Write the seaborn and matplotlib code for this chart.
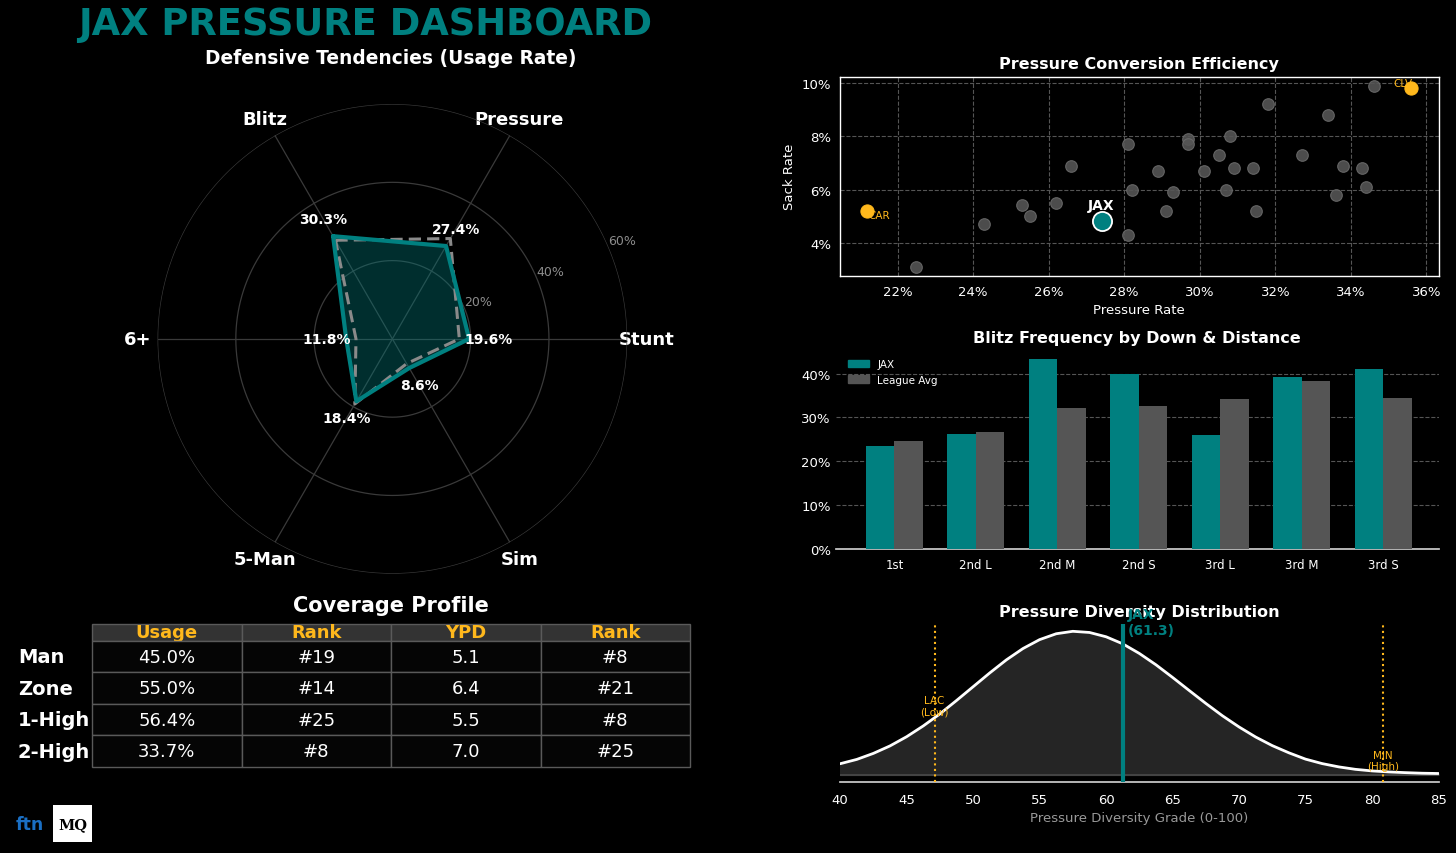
import numpy as np
import pandas as pd
import matplotlib
matplotlib.use("Agg")
import matplotlib.pyplot as plt
import seaborn as sns
from matplotlib.patches import Rectangle, Patch
from matplotlib.ticker import PercentFormatter

TEAL = "#008080"
GOLD = "#FFB81C"
GRAY = "#555555"

# ---- radar: usage rates ----
radar_cats = ["Blitz", "Pressure", "Stunt", "Sim", "5-Man", "6+"]
radar_jax = [30.3, 27.4, 19.6, 8.6, 18.4, 11.8]
radar_league = [29.1, 29.6, 17.1, 7.3, 19.2, 9.3]

# ---- scatter: pressure rate vs sack rate ----
other_press = [22.5, 24.3, 25.3, 25.5, 26.2, 26.6, 28.1, 28.2, 28.1, 28.9,
               29.1, 29.3, 29.7, 29.7, 30.1, 30.5, 30.7, 30.8, 30.9, 31.4,
               31.5, 31.8, 32.7, 33.4, 33.6, 33.8, 34.3, 34.4, 34.6]
other_sack = [3.1, 4.7, 5.4, 5.0, 5.5, 6.9, 7.7, 6.0, 4.3, 6.7,
              5.2, 5.9, 7.9, 7.7, 6.7, 7.3, 6.0, 8.0, 6.8, 6.8,
              5.2, 9.2, 7.3, 8.8, 5.8, 6.9, 6.8, 6.1, 9.9]
hl_teams = ["CAR", "CLV"]
hl_press = [21.2, 35.6]
hl_sack = [5.2, 9.8]
jax_press = 27.4
jax_sack = 4.8

# ---- bars: blitz rate by down & distance ----
situations = ["1st", "2nd L", "2nd M", "2nd S", "3rd L", "3rd M", "3rd S"]
blitz_jax = [23.4, 26.3, 43.2, 39.9, 25.9, 39.2, 41.0]
blitz_league = [24.6, 26.6, 32.1, 32.7, 34.3, 38.3, 34.5]

# ---- diversity distribution (curve, relative height) ----
grade_x = [40, 41.25, 42.5, 43.75, 45, 46.25, 47.5, 48.75, 50, 51.25, 52.5,
           53.75, 55, 56.25, 57.5, 58.75, 60, 61.25, 62.5, 63.75, 65, 66.25,
           67.5, 68.75, 70, 71.25, 72.5, 73.75, 75, 76.25, 77.5, 78.75, 80,
           81.25, 82.5, 83.75, 85]
grade_density = [0.078, 0.108, 0.150, 0.202, 0.266, 0.341, 0.425, 0.518,
                 0.614, 0.710, 0.801, 0.880, 0.942, 0.983, 1.000, 0.992,
                 0.962, 0.913, 0.846, 0.767, 0.679, 0.588, 0.498, 0.412,
                 0.334, 0.264, 0.204, 0.154, 0.110, 0.079, 0.056, 0.039,
                 0.028, 0.021, 0.016, 0.012, 0.010]
jax_grade = 61.3
low_team, low_grade = "LAC", 47.1
high_team, high_grade = "MIN", 80.8

# ---- coverage table ----
cov_rows = ["Man", "Zone", "1-High", "2-High"]
cov_headers = ["Usage", "Rank", "YPD", "Rank"]
cov_usage = [45.0, 55.0, 56.4, 33.7]
cov_usage_rank = [19, 14, 25, 8]
cov_ypd = [5.1, 6.4, 5.5, 7.0]
cov_ypd_rank = [8, 21, 8, 25]


sns.set_theme(style="dark", rc={
    "figure.facecolor": "black",
    "axes.facecolor": "black",
    "savefig.facecolor": "black",
    "text.color": "white",
    "axes.labelcolor": "white",
    "xtick.color": "white",
    "ytick.color": "white",
    "axes.edgecolor": "white",
})
plt.rcParams["font.family"] = ["DejaVu Sans"]

fig = plt.figure(figsize=(14.56, 8.54), dpi=100)

fig.text(0.2507, 0.971, "JAX PRESSURE DASHBOARD", color=TEAL, fontsize=26.6,
         fontweight="bold", ha="center", va="center")
fig.text(0.2685, 0.932, "Defensive Tendencies (Usage Rate)", color="white",
         fontsize=13.4, fontweight="bold", ha="center", va="center")

# ---------------- radar ----------------
ax_r = fig.add_axes([0.108, 0.327, 0.323, 0.550], projection="polar")
ax_r.set_facecolor("black")
ax_r.set_theta_offset(np.deg2rad(120))
ax_r.set_theta_direction(-1)
angles = np.linspace(0, 2 * np.pi, len(radar_cats), endpoint=False)
ang_c = np.append(angles, angles[0])
jax_c = np.append(radar_jax, radar_jax[0])
lg_c = np.append(radar_league, radar_league[0])

# ring gridlines
ring_theta = np.linspace(0, 2 * np.pi, 361)
for rr in [20, 40, 60]:
    ax_r.plot(ring_theta, np.full_like(ring_theta, rr), color="#3a3a3a",
              linewidth=0.9, zorder=1)

ax_r.fill(ang_c, jax_c, color=TEAL, alpha=0.36, zorder=2)
sns.lineplot(x=ang_c, y=lg_c, ax=ax_r, sort=False, estimator=None,
             color="#8a8a8a", linewidth=2.2, linestyle=(0, (4, 2)), zorder=3)
sns.lineplot(x=ang_c, y=jax_c, ax=ax_r, sort=False, estimator=None,
             color=TEAL, linewidth=3, zorder=4)
for a, v in zip(angles, radar_jax):
    ax_r.text(a, v + 5, f"{v:.1f}%", color="white", fontsize=10,
              fontweight="bold", ha="center", va="center", zorder=5)

ax_r.set_ylim(0, 60)
ax_r.set_yticks([20, 40, 60])
ax_r.set_yticklabels(["20%", "40%", "60%"], color="#8c8c8c", fontsize=9)
ax_r.set_rlabel_position(97)
ax_r.set_xticks(angles)
ax_r.set_xticklabels(radar_cats, color="white", fontsize=13, fontweight="bold")
ax_r.tick_params(axis="x", pad=1)
ax_r.xaxis.grid(True, color="#3a3a3a", linewidth=0.9)
ax_r.yaxis.grid(True, color="#3a3a3a", linewidth=0.9)
ax_r.spines["polar"].set_visible(False)
ax_r.set_xlabel("")
ax_r.set_ylabel("")

# ---------------- scatter ----------------
ax_s = fig.add_axes([0.577, 0.676, 0.411, 0.233])
sns.scatterplot(x=other_press, y=other_sack, ax=ax_s, color="#555555",
                edgecolor="#6a6a6a", linewidth=0.8, s=70, alpha=0.9, zorder=3)
sns.scatterplot(x=hl_press, y=hl_sack, ax=ax_s, color=GOLD, edgecolor=GOLD,
                s=90, zorder=4)
sns.scatterplot(x=[jax_press], y=[jax_sack], ax=ax_s, color=TEAL,
                edgecolor="white", linewidth=1.3, s=190, zorder=5)
ax_s.annotate(hl_teams[0], (hl_press[0], hl_sack[0]), xytext=(1, -3),
              textcoords="offset points", color=GOLD, fontsize=7.5,
              ha="left", va="center")
ax_s.annotate(hl_teams[1], (hl_press[1], hl_sack[1]), xytext=(1, 4),
              textcoords="offset points", color=GOLD, fontsize=7.5,
              ha="right", va="center")
ax_s.annotate("JAX", (jax_press, jax_sack), xytext=(0, 7),
              textcoords="offset points", color="white", fontsize=10,
              fontweight="bold", ha="center", va="bottom")
ax_s.set_xticks([22, 24, 26, 28, 30, 32, 34, 36])
ax_s.set_yticks([4, 6, 8, 10])
ax_s.xaxis.set_major_formatter(PercentFormatter(decimals=0))
ax_s.yaxis.set_major_formatter(PercentFormatter(decimals=0))
ax_s.grid(True, linestyle="--", color="#555555", linewidth=0.8)
ax_s.tick_params(labelsize=9.5, length=3, color="white")
for sp in ax_s.spines.values():
    sp.set_color("white")
    sp.set_linewidth(1)
ax_s.set_xlabel("Pressure Rate", fontsize=9.5)
ax_s.set_ylabel("Sack Rate", fontsize=9.5)
ax_s.set_title("Pressure Conversion Efficiency", color="white", fontsize=11.5,
               fontweight="bold", pad=6)

# ---------------- bars ----------------
ax_b = fig.add_axes([0.574, 0.356, 0.414, 0.233])
bars_df = pd.DataFrame({
    "situation": situations * 2,
    "rate": blitz_jax + blitz_league,
    "team": ["JAX"] * len(situations) + ["League Avg"] * len(situations),
})
sns.barplot(data=bars_df, x="situation", y="rate", hue="team", ax=ax_b,
            palette=[TEAL, GRAY], width=0.7, saturation=1, edgecolor="none",
            linewidth=0, zorder=3)
ax_b.set_xlim(-0.72, 6.68)
ax_b.set_yticks([0, 10, 20, 30, 40])
ax_b.yaxis.set_major_formatter(PercentFormatter(decimals=0))
ax_b.grid(True, axis="y", linestyle="--", color="#555555", linewidth=0.8)
ax_b.grid(False, axis="x")
for side in ["top", "right", "left"]:
    ax_b.spines[side].set_visible(False)
ax_b.spines["bottom"].set_color("#cccccc")
ax_b.tick_params(axis="x", labelsize=8.5, length=3, color="white")
ax_b.tick_params(axis="y", labelsize=9.5, length=0)
ax_b.set_xlabel("")
ax_b.set_ylabel("")
ax_b.legend(handles=[Patch(color=TEAL, label="JAX"),
                     Patch(color=GRAY, label="League Avg")],
            loc="upper left", frameon=False, fontsize=7.5, labelcolor="white",
            bbox_to_anchor=(0.005, 1.0))
ax_b.set_title("Blitz Frequency by Down & Distance", color="white",
               fontsize=11.5, fontweight="bold", pad=6)

# ---------------- distribution ----------------
ax_d = fig.add_axes([0.577, 0.083, 0.411, 0.185])
ax_d.fill_between(grade_x, 0, grade_density, color="#252525", zorder=1)
ax_d.axhline(0, color="#4a4a4a", linewidth=1.2, zorder=2)
sns.lineplot(x=grade_x, y=grade_density, ax=ax_d, color="white",
             linewidth=2, zorder=3)
ax_d.axvline(low_grade, color=GOLD, linestyle=":", linewidth=1.5, zorder=4)
ax_d.axvline(high_grade, color=GOLD, linestyle=":", linewidth=1.5, zorder=4)
ax_d.axvline(jax_grade, color=TEAL, linewidth=3, zorder=5)
ax_d.text(low_grade, 0.48, f"{low_team}\n(Low)", color=GOLD, fontsize=7.5,
          ha="center", va="center", zorder=6)
ax_d.text(high_grade, 0.10, f"{high_team}\n(High)", color=GOLD, fontsize=7.5,
          ha="center", va="center", zorder=6)
ax_d.text(jax_grade + 0.3, 0.96, f"JAX\n({jax_grade})", color=TEAL,
          fontsize=10, fontweight="bold", ha="left", va="bottom", zorder=6)
ax_d.set_xlim(40, 85)
ax_d.set_ylim(-0.05, 1.05)
ax_d.set_yticks([])
ax_d.grid(False)
for side in ["top", "right", "left"]:
    ax_d.spines[side].set_visible(False)
ax_d.spines["bottom"].set_color("#cccccc")
ax_d.tick_params(axis="x", labelsize=9.5, length=4, color="white")
ax_d.set_xlabel("Pressure Diversity Grade (0-100)", color="#999999",
                fontsize=9.5)
ax_d.set_ylabel("")
ax_d.set_title("Pressure Diversity Distribution", color="white",
               fontsize=11.5, fontweight="bold", pad=6)

# ---------------- coverage table ----------------
fig.text(0.2685, 0.2904, "Coverage Profile", color="white", fontsize=15,
         fontweight="bold", ha="center", va="center")
ax_t = fig.add_axes([0.0632, 0.1007, 0.4107, 0.1675])
ax_t.axis("off")
cells = [cov_headers]
for u, ur, y, yr in zip(cov_usage, cov_usage_rank, cov_ypd, cov_ypd_rank):
    cells.append([f"{u:.1f}%", f"#{ur}", f"{y:.1f}", f"#{yr}"])
tbl = ax_t.table(cellText=cells, bbox=[0, 0, 1, 1], cellLoc="center")
tbl.auto_set_font_size(False)
head_h = 17 / 143
row_h = 31.5 / 143
for (r, c), cell in tbl.get_celld().items():
    cell.set_edgecolor("#5a5a5a")
    cell.set_linewidth(1)
    if r == 0:
        cell.set_height(head_h)
        cell.set_facecolor("#333333")
        cell.get_text().set_color(GOLD)
        cell.get_text().set_fontweight("bold")
        cell.get_text().set_fontsize(13)
    else:
        cell.set_height(row_h)
        cell.set_facecolor("#050505")
        cell.get_text().set_color("white")
        cell.get_text().set_fontsize(13)
for i, name in enumerate(cov_rows):
    yc = 1 - head_h - (i + 0.5) * row_h
    ax_t.text(-0.124, yc, name, transform=ax_t.transAxes, color="white",
              fontsize=14, fontweight="bold", ha="left", va="center")

# ---------------- logos ----------------
fig.text(0.0105, 0.034, "ftn", color="#1a6fc4", fontsize=12.5,
         fontweight="bold", ha="left", va="center")
fig.patches.append(Rectangle((0.0364, 0.0129), 0.0268, 0.0433,
                             transform=fig.transFigure, facecolor="white",
                             edgecolor="none"))
fig.text(0.0498, 0.034, "MQ", color="black", fontsize=10.5,
         fontfamily="DejaVu Serif", fontweight="bold", ha="center",
         va="center")

fig.savefig("out.png", dpi=100, facecolor="black")
